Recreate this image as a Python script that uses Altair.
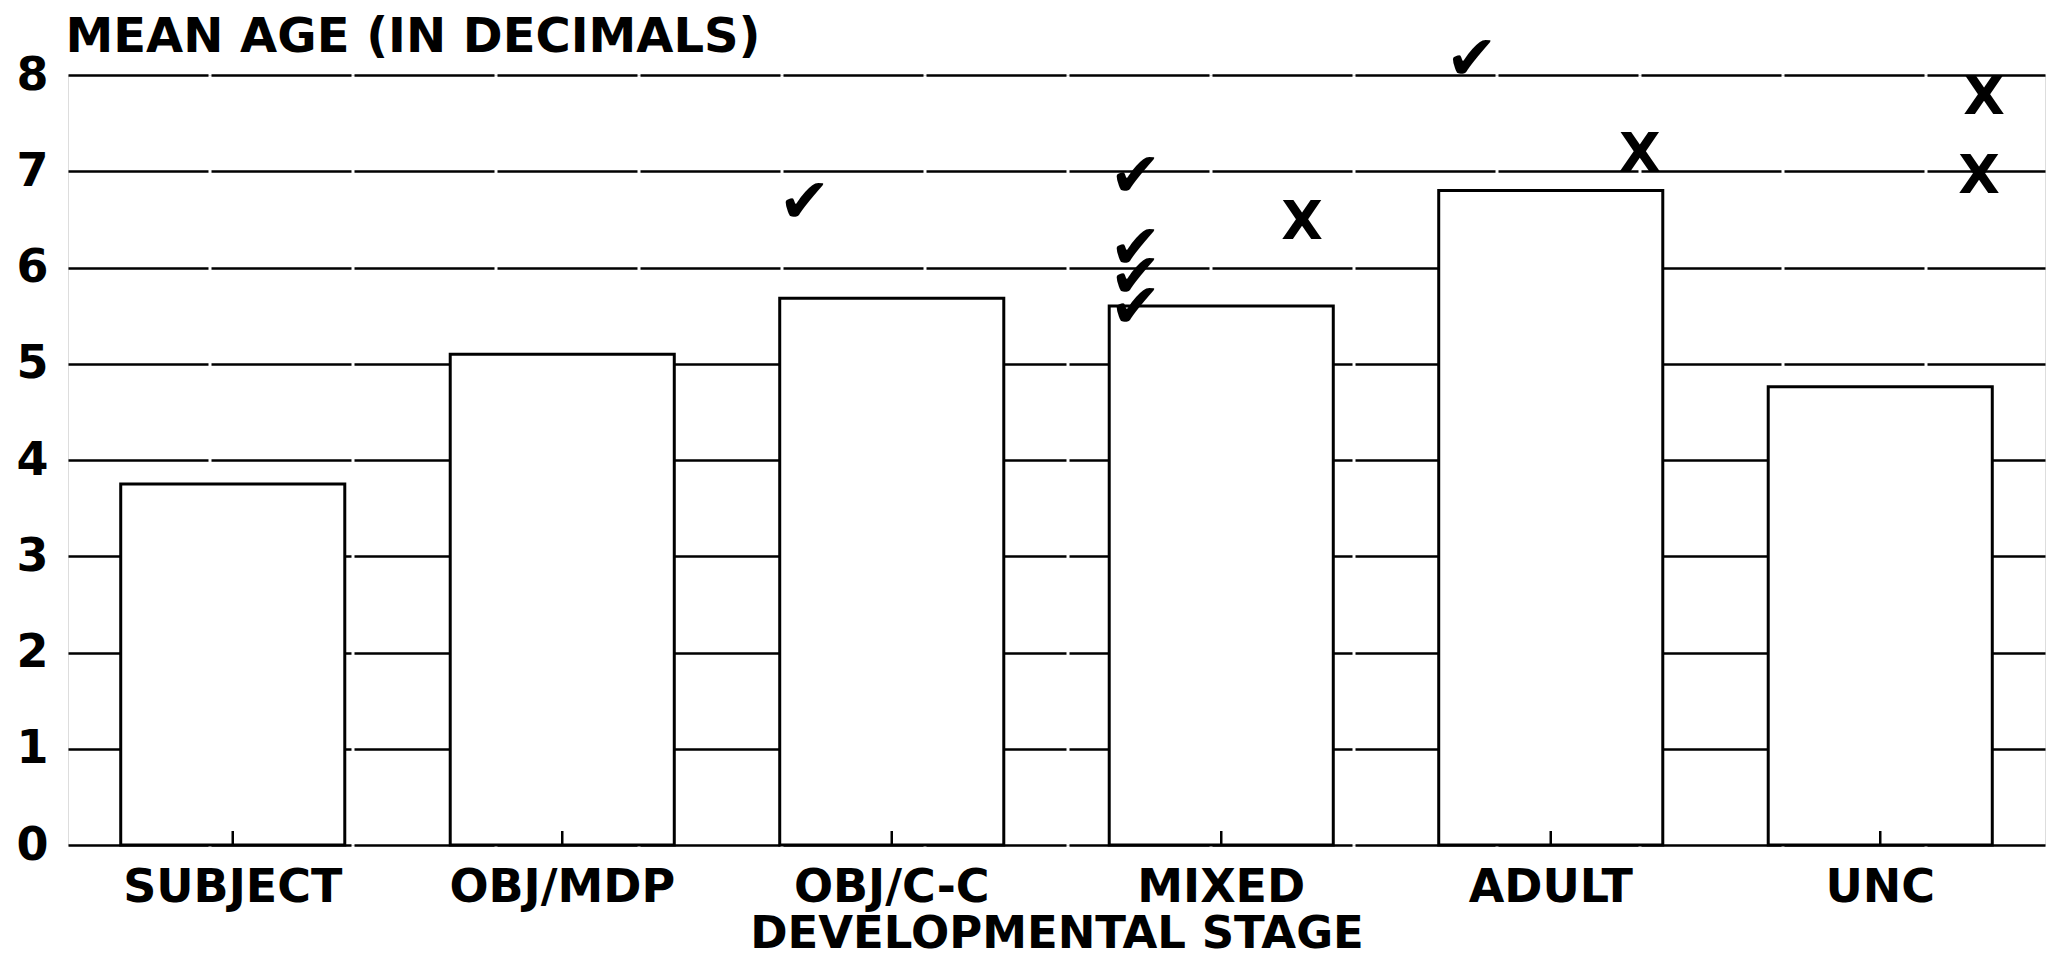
import altair as alt
import pandas as pd
import json

# Data
stages = ["SUBJECT", "OBJ/MDP", "OBJ/C-C", "MIXED", "ADULT", "UNC"]
mean_age = [3.75, 5.10, 5.68, 5.60, 6.80, 4.76]

# individual markers: stage, value, position within the stage slot (0..1), symbol
mark_stage = ["OBJ/C-C", "MIXED", "MIXED", "MIXED", "MIXED", "MIXED", "ADULT", "ADULT", "UNC", "UNC"]
mark_value = [6.67, 6.94, 6.19, 5.89, 5.58, 6.46, 8.16, 7.17, 7.76, 6.94]
mark_frac = [0.235, 0.24, 0.24, 0.24, 0.24, 0.745, 0.26, 0.77, 0.815, 0.80]
mark_symbol = ["✔", "✔", "✔", "✔", "✔", "X", "✔", "X", "X", "X"]

bars_df = pd.DataFrame({"stage": stages, "age": mean_age})
marks_df = pd.DataFrame({"stage": mark_stage, "age": mark_value,
                         "frac": mark_frac, "sym": mark_symbol})

FONT = "DejaVu Sans"
W, H = 1977, 770

xscale = alt.Scale(domain=stages, paddingInner=0.32, paddingOuter=0.16)
yscale = alt.Scale(domain=[0, 8], nice=False)

base_x = alt.X("stage:N", scale=xscale, sort=stages,
               axis=alt.Axis(title="DEVELOPMENTAL STAGE", labelAngle=0,
                             labelFont=FONT, labelFontWeight="bold",
                             labelFontSize=46, labelColor="black",
                             labelLimit=0, labelPadding=20,
                             ticks=False, domain=False,
                             titleFont=FONT, titleFontWeight="bold",
                             titleFontSize=45, titleColor="black",
                             titlePadding=1))
base_y = alt.Y("age:Q", scale=yscale,
               axis=alt.Axis(title="MEAN AGE (IN DECIMALS)", values=list(range(0, 9)),
                             format="d",
                             labelFont=FONT, labelFontWeight="bold",
                             labelFontSize=46, labelColor="black",
                             labelPadding=20, ticks=False, domain=False,
                             grid=True, gridColor="black", gridWidth=2.5,
                             gridDash=[140, 3],
                             titleAngle=0, titleAlign="left",
                             titleBaseline="alphabetic",
                             titleX=-3, titleY=-24,
                             titleFont=FONT, titleFontWeight="bold",
                             titleFontSize=48, titleColor="black"))

bars = alt.Chart(bars_df).mark_bar(fill="white", stroke="black",
                                   strokeWidth=3).encode(x=base_x, y=base_y)

ticks = alt.Chart(bars_df).mark_rule(color="black", strokeWidth=2.5).encode(
    x=alt.X("stage:N", scale=xscale, sort=stages, axis=None),
    y=alt.value(H), y2=alt.value(H - 14))

marks = alt.Chart(marks_df).transform_calculate(
    xpos=f"indexof({json.dumps(stages)}, datum.stage) + datum.frac"
).mark_text(font=FONT, fontWeight="bold", color="black",
            baseline="middle", align="center").encode(
    x=alt.X("xpos:Q", scale=alt.Scale(domain=[0, len(stages)], nice=False, zero=False),
            axis=None),
    y=alt.Y("age:Q", scale=yscale),
    text="sym:N",
    size=alt.Size("sym:N", scale=alt.Scale(domain=["✔", "X"], range=[62, 54]),
                  legend=None))

chart = alt.layer(bars, ticks, marks).resolve_scale(x="independent").properties(
    width=W, height=H,
    autosize=alt.AutoSizeParams(type="none"),
    padding={"left": 60, "top": 67, "right": 2, "bottom": 121},
).configure_view(stroke="black", strokeWidth=3).configure(background="white")

chart.save("out.html", embed_options={"renderer": "svg", "actions": False})
